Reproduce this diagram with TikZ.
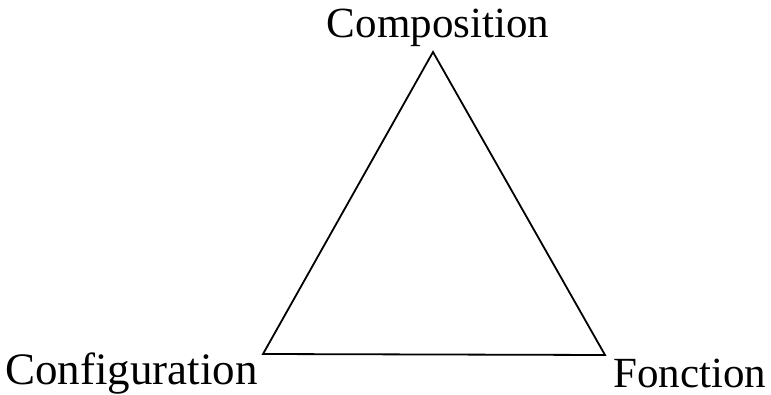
\documentclass[tikz,border=0pt]{standalone}
\usepackage{fontspec}
\setmainfont{Liberation Serif}
\begin{document}
\begin{tikzpicture}[x=1pt,y=-1pt,
  lbl/.style={inner sep=0pt, font=\fontsize{43}{43}\selectfont},
  edge/.style={line width=1.8pt, line join=miter}]
\useasboundingbox (0,0) rectangle (771,395);
\coordinate (top) at (433,52);
\coordinate (left) at (263,354);
\coordinate (right) at (605,355);
\draw[edge] (top) -- (left) -- (right) -- cycle;
\node[lbl, anchor=base] (comp) at (438,38) {Composition};
\node[lbl, anchor=base west, font=\fontsize{45}{45}\selectfont] (conf) at (5,384) {Configuration};
\node[lbl, anchor=base west] (fonc) at (613,387) {Fonction};
\end{tikzpicture}
\end{document}
